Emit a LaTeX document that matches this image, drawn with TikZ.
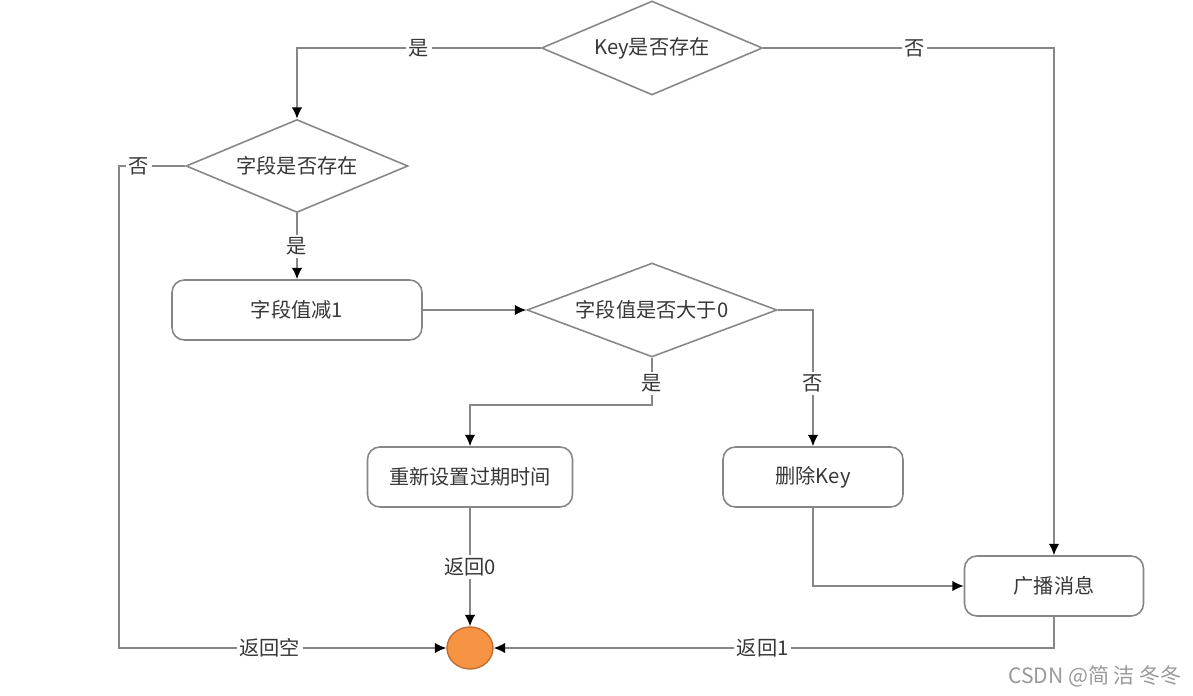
\documentclass[tikz,border=0pt]{standalone}
\usepackage{fontspec}
\setmainfont{Noto Sans CJK SC}
\usetikzlibrary{shapes.geometric,arrows.meta}
\definecolor{linegray}{RGB}{135,135,135}
\definecolor{textgray}{RGB}{55,55,55}
\definecolor{endfill}{RGB}{247,148,68}
\definecolor{enddraw}{RGB}{190,110,50}

\tikzset{
	decision/.style={diamond, aspect=2.4, draw=linegray, line width=0.9pt, fill=white, inner sep=0pt, text=textgray},
	process/.style={rectangle, rounded corners=7pt, draw=linegray, line width=0.9pt, fill=white, inner sep=0pt, text=textgray},
	flow/.style={draw=linegray, line width=0.9pt, ->},
	lbl/.style={fill=white, inner sep=1.5pt, text=textgray},
}

\begin{document}
\begin{tikzpicture}[x=0.02cm,y=-0.02cm,>={Latex[black,length=6.5pt,width=6pt]},font=\fontsize{11.5}{13}\selectfont]
			\useasboundingbox (0,0) rectangle (1193,696);
			% decisions
			\node[decision, minimum width=4.42cm, minimum height=1.88cm] (key) at (652,48) {Key是否存在};
			\node[decision, minimum width=4.44cm, minimum height=1.86cm] (field) at (297,166) {字段是否存在};
			\node[decision, aspect=2.66, minimum width=5.00cm, minimum height=1.88cm] (val) at (652,310) {字段值是否大于0};

			% steps
			\foreach \nm/\x/\y/\w/\txt in {dec/297/310/5.00/字段值减1, reset/470/477/4.10/重新设置过期时间, del/813/477/3.60/删除Key, bcast/1054/586/3.58/广播消息}{
					\node[process, minimum width=\w cm, minimum height=1.2cm] (\nm) at (\x,\y) {\txt};
				}
			\node[ellipse, draw=enddraw, fill=endfill, line width=0.8pt, minimum width=0.92cm, minimum height=0.84cm, inner sep=0pt] (end) at (470,648) {};

			% connectors
			\draw[flow] (key.west) -| node[lbl, pos=0.25] {是} (field.north);
			\draw[flow] (key.east) -| node[lbl, pos=0.26] {否} (bcast.north);
			\draw[flow] (field.west) -- ++(-66,0) node[lbl, pos=0.7] {否} |- node[lbl, pos=0.73] {返回空} (end.west);
			\draw[flow] (field.south) -- node[lbl] {是} (dec.north);
			\draw[flow] (dec.east) -- (val.west);
			\draw[flow] (val.south) -- ++(0,47) node[lbl, pos=0.55] {是} -| (reset.north);
			\draw[flow] (val.east) -| node[lbl, pos=0.77] {否} (del.north);
			\draw[flow] (del.south) |- (bcast.west);
			\draw[flow] (reset.south) -- node[lbl] {返回0} (end.north);
			\draw[flow] (bcast.south) |- node[lbl, pos=0.76] {返回1} (end.east);

			\node[text=gray!80, font=\fontsize{12}{14}\selectfont] (mark) at (1095,676) {CSDN @简 洁 冬冬};
		\end{tikzpicture}
\end{document}
